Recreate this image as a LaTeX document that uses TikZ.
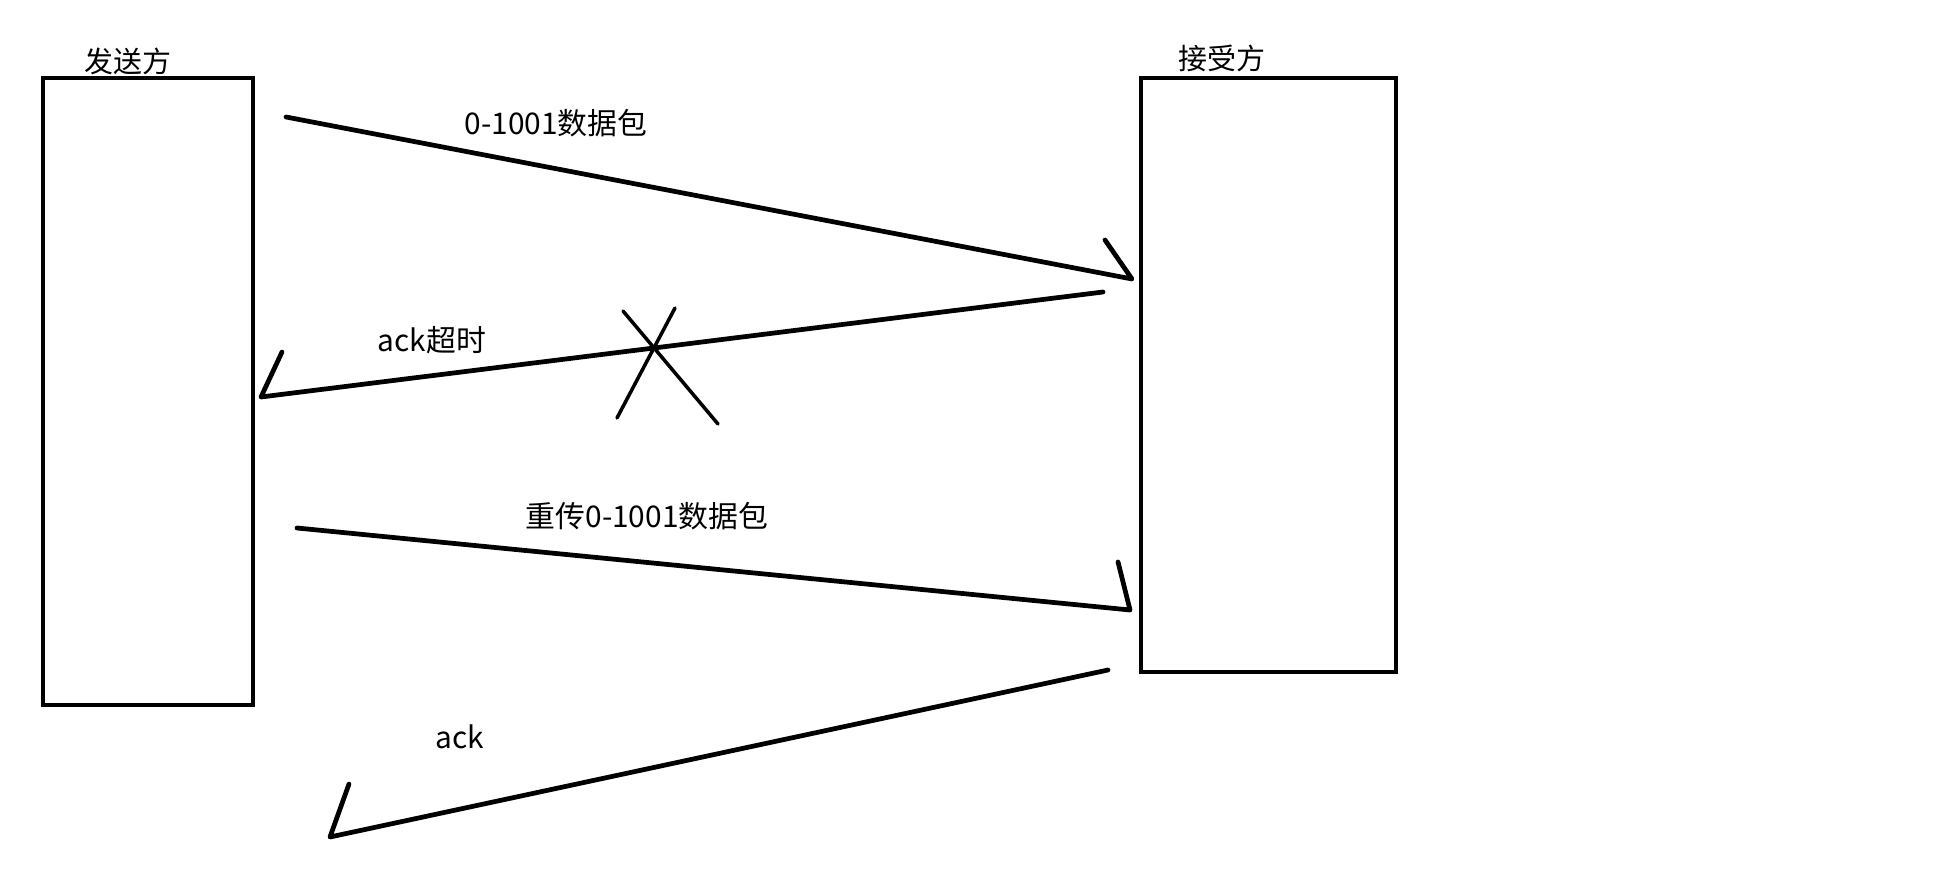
\documentclass[tikz,border=0pt]{standalone}
\usepackage{fontspec}
\newfontfamily\cjk{Noto Sans CJK SC}
\usetikzlibrary{positioning}

\begin{document}
\begin{tikzpicture}[x=0.02cm, y=-0.02cm,
  party/.style={rectangle, draw, line width=2.7pt, inner sep=0pt},
  msg/.style={line width=2.7pt, line cap=round, line join=round},
  tag/.style={font=\cjk\fontsize{17}{19}\selectfont, inner sep=0pt},
  title/.style={font=\cjk\fontsize{16.5}{18}\selectfont, inner sep=0pt}]
\useasboundingbox (0,0) rectangle (1945,874);
% the two sides
\node[party, minimum width=4.2cm, minimum height=12.54cm] (sender) at (148,391.5) {};
\node[party, minimum width=5.1cm, minimum height=11.88cm] (receiver) at (1268.5,375) {};
\node[title] (sendername) at (128,61) {发送方};
\node[title] (recvname) at (1222,58) {接受方};
% end points of the messages
\coordinate (m1s) at (286,117); \coordinate (m1t) at (1132,279); \coordinate (m1b) at (1105,240);
\coordinate (m2s) at (1103,292); \coordinate (m2t) at (261,397); \coordinate (m2b) at (282,352);
\coordinate (m3s) at (297,528); \coordinate (m3t) at (1130,610); \coordinate (m3b) at (1118,562);
\coordinate (m4s) at (1108,670); \coordinate (m4t) at (330,837); \coordinate (m4b) at (349,784);
\draw[msg] (m1s) -- (m1t) -- (m1b);
\draw[msg] (m2s) -- (m2t) -- (m2b);
\draw[msg] (m3s) -- (m3t) -- (m3b);
\draw[msg] (m4s) -- (m4t) -- (m4b);
% lost ack
\coordinate (xa1) at (623,311); \coordinate (xa2) at (718,424);
\coordinate (xb1) at (675,308); \coordinate (xb2) at (617,418);
\draw[msg, line width=2pt] (xa1) -- (xa2);
\draw[msg, line width=2pt] (xb1) -- (xb2);
% labels
\node[tag] (lab1) at (556,123) {0-1001数据包};
\node[tag] (lab2) at (432,340) {ack超时};
\node[tag] (lab3) at (647,516) {重传0-1001数据包};
\node[tag] (lab4) at (460,737) {ack};
\end{tikzpicture}
\end{document}
